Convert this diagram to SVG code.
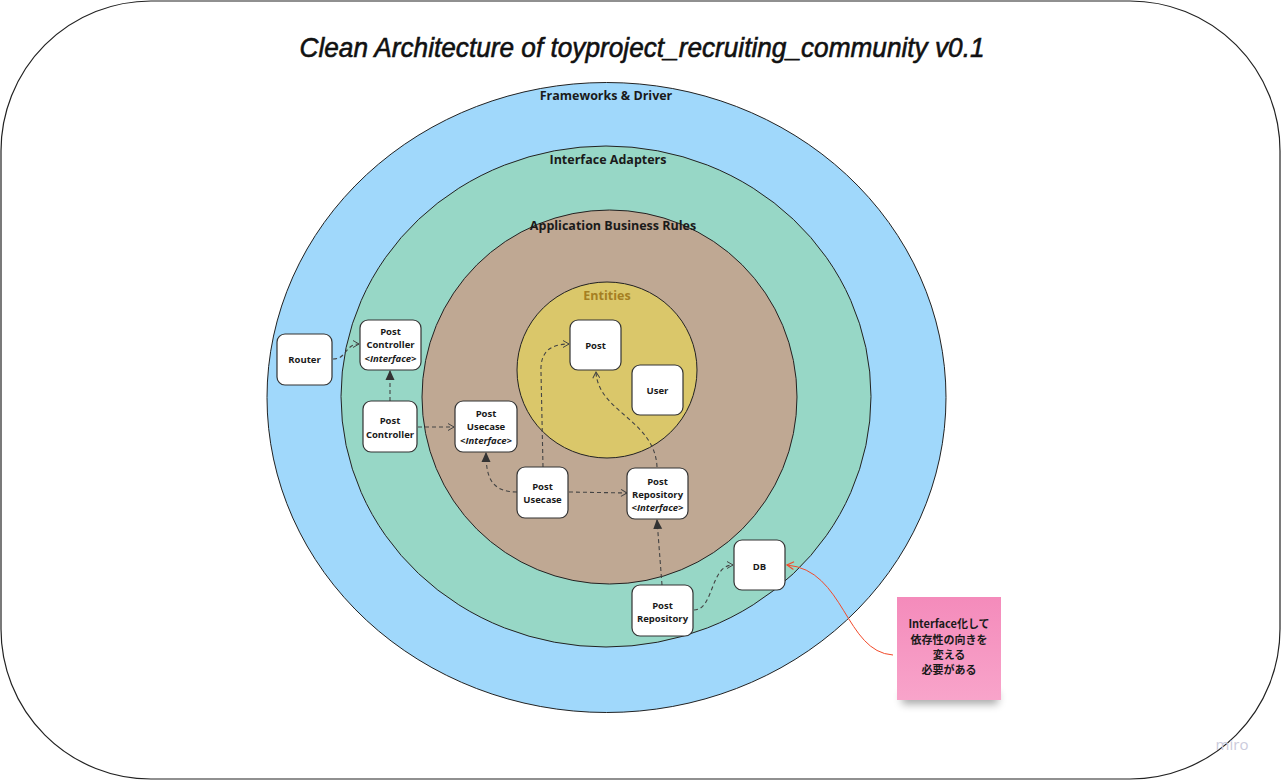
<svg xmlns="http://www.w3.org/2000/svg" width="1281" height="780" viewBox="0 0 1281 780">
<style>
.node rect{fill:#fff;stroke:#333;stroke-width:1.2}
.node text,.lbl{font-family:"Open Sans","Noto Sans","Liberation Sans",sans-serif;font-weight:700;fill:#1a1a1a;text-anchor:middle}
.node text{font-size:9.5px}
.node text.it{font-style:italic}
.lbl{font-size:12.5px}
.ring{stroke:#222;stroke-width:1}
.c{fill:none;stroke:#444;stroke-width:1.1;stroke-dasharray:4 3}
.open{marker-end:url(#open)}
.tri{marker-end:url(#tri)}
</style>
<defs>
<marker id="open" viewBox="0 0 8 8" refX="7" refY="4" markerWidth="8" markerHeight="8" markerUnits="userSpaceOnUse" orient="auto">
<path d="M1,0.5 L7,4 L1,7.5" fill="none" stroke="#444" stroke-width="1"/>
</marker>
<marker id="tri" viewBox="0 0 10 10" refX="9" refY="5" markerWidth="10" markerHeight="10" markerUnits="userSpaceOnUse" orient="auto">
<path d="M0,0.5 L10,5 L0,9.5 z" fill="#333"/>
</marker>
<marker id="red" viewBox="0 0 8 8" refX="7" refY="4" markerWidth="9" markerHeight="9" markerUnits="userSpaceOnUse" orient="auto">
<path d="M1,0.5 L7,4 L1,7.5" fill="none" stroke="#F24A2A" stroke-width="1"/>
</marker>
<linearGradient id="pink" x1="0" y1="0" x2="0" y2="1">
<stop offset="0" stop-color="#F48BBB"/>
<stop offset="1" stop-color="#F8A4CA"/>
</linearGradient>
<filter id="blur" x="-30%" y="-100%" width="160%" height="300%">
<feGaussianBlur stdDeviation="4"/>
</filter>
</defs>

<rect x="1" y="1" width="1279" height="778" rx="150" ry="150" fill="#fff" stroke="#222" stroke-width="1.2"/>

<text x="642" y="57" font-family="'Liberation Sans',sans-serif" font-style="italic" font-size="28" fill="#111" stroke="#111" stroke-width="0.6" text-anchor="middle" textLength="685" lengthAdjust="spacingAndGlyphs">Clean Architecture of toyproject_recruiting_community v0.1</text>

<g id="layers">
<ellipse class="ring" cx="606.5" cy="397.5" rx="339.5" ry="315" fill="#A0D8FB"/>
<ellipse class="ring" cx="606" cy="396.5" rx="265" ry="250.5" fill="#97D7C6"/>
<ellipse class="ring" cx="609.5" cy="397" rx="187.5" ry="187" fill="#BFA893"/>
<ellipse class="ring" cx="607" cy="370" rx="90" ry="88" fill="#DAC76A"/>
<text class="lbl" x="606" y="100">Frameworks &amp; Driver</text>
<text class="lbl" x="608" y="164">Interface Adapters</text>
<text class="lbl" x="613" y="230">Application Business Rules</text>
<text class="lbl" x="607" y="300" style="fill:#A57F22">Entities</text>
</g>

<g id="connectors">
<path class="c open" d="M333,359 C347,359 345,344 359,344"/>
<path class="c tri" d="M390,401 L390,371"/>
<path class="c open" d="M418,427 L454,427"/>
<path class="c tri" d="M517,492 C492,492 486,478 486,453"/>
<path class="c open" d="M543,467 L541,372 C540,352 550,344 569,344"/>
<path class="c open" d="M569,492 L627,493"/>
<path class="c open" d="M657,467 C655,420 598,412 596,372"/>
<path class="c tri" d="M662,585 L657,520"/>
<path class="c open" d="M694,610 C714,610 710,565 733,565"/>
<path d="M893,655 C845,652 845,570 787,565" fill="none" stroke="#F24A2A" stroke-width="1" marker-end="url(#red)"/>
</g>

<g id="router" class="node"><rect x="277" y="334" width="55" height="51" rx="8"/><text x="304.5" y="363">Router</text></g>
<g id="post-controller-interface" class="node"><rect x="360" y="320" width="61" height="50" rx="8"/><text x="390.5" y="335">Post</text><text x="390.5" y="348">Controller</text><text class="it" x="390.5" y="362">&lt;Interface&gt;</text></g>
<g id="post-controller" class="node"><rect x="363" y="401" width="54" height="51" rx="8"/><text x="390" y="424">Post</text><text x="390" y="437.5">Controller</text></g>
<g id="post-usecase-interface" class="node"><rect x="455" y="401" width="62" height="51" rx="8"/><text x="486" y="416.5">Post</text><text x="486" y="430">Usecase</text><text class="it" x="486" y="443.5">&lt;Interface&gt;</text></g>
<g id="post-entity" class="node"><rect x="570" y="320" width="51" height="50" rx="8"/><text x="595.5" y="348.5">Post</text></g>
<g id="user" class="node"><rect x="632" y="365" width="51" height="50" rx="8"/><text x="657.5" y="393.5">User</text></g>
<g id="post-usecase" class="node"><rect x="517" y="467" width="51" height="51" rx="8"/><text x="542.5" y="490">Post</text><text x="542.5" y="503">Usecase</text></g>
<g id="post-repository-interface" class="node"><rect x="627" y="468" width="61" height="51" rx="8"/><text x="657.5" y="484.5">Post</text><text x="657.5" y="497.5">Repository</text><text class="it" x="657.5" y="511">&lt;Interface&gt;</text></g>
<g id="db" class="node"><rect x="734" y="540" width="51" height="50" rx="8"/><text x="759.5" y="569.5">DB</text></g>
<g id="post-repository" class="node"><rect x="632" y="585" width="61" height="51" rx="8"/><text x="662.5" y="608.5">Post</text><text x="662.5" y="621.5">Repository</text></g>

<g id="sticky-note">
<rect x="902" y="692" width="96" height="12" fill="#000" opacity="0.35" filter="url(#blur)"/>
<rect x="897" y="597" width="104" height="103" fill="url(#pink)"/>
<g font-family="'Noto Sans CJK JP','Noto Sans',sans-serif" font-weight="700" font-size="11" fill="#1a1a1a" text-anchor="middle">
<text x="949" y="628">Interface化して</text>
<text x="949" y="644">依存性の向きを</text>
<text x="949" y="659">変える</text>
<text x="949" y="674">必要がある</text>
</g>
</g>

<text x="1232" y="750" font-family="'Open Sans','Noto Sans',sans-serif" font-size="15" fill="#CBCBDC" text-anchor="middle">miro</text>
</svg>
